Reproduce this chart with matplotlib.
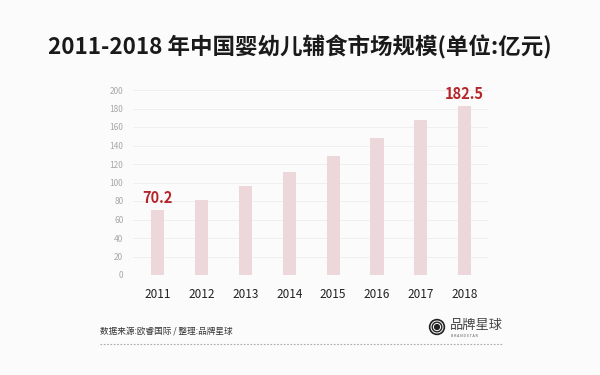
import numpy as np
import matplotlib.pyplot as plt
from matplotlib.patches import Circle

plt.rcParams['font.family'] = ['Noto Sans CJK SC', 'DejaVu Sans']

years = ['2011', '2012', '2013', '2014', '2015', '2016', '2017', '2018']
values = [70.2, 81.5, 96.6, 111.5, 128.5, 148.0, 167.5, 182.5]
labelled = {0: '70.2', 7: '182.5'}

bg = '#fbfbfb'
fig = plt.figure(figsize=(6, 3.75), dpi=100, facecolor=bg)
ax = fig.add_axes([133/600, 1-275/375, (488-133)/600, 185/375], facecolor=bg)

x = np.arange(len(years))
ax.bar(x, values, width=0.3, color='#ecd7da', zorder=2)
for i, t in labelled.items():
    ax.text(x[i], values[i] + 4, t, ha='center', va='bottom', color='#b5262a',
            fontsize=10.5, fontweight='bold')

ax.set_xlim(-0.56, 7.53)
ax.set_ylim(0, 200)
ax.set_yticks(range(0, 201, 20))
ax.set_xticks(x)
ax.set_xticklabels(years)
ax.grid(axis='y', color='#ededed', linewidth=0.6, zorder=0)
for s in ax.spines.values():
    s.set_visible(False)
ax.tick_params(axis='y', length=0, labelsize=6, labelcolor='#a8a8a8', pad=7)
ax.tick_params(axis='x', length=0, labelsize=8.5, labelcolor='#222222', pad=9)

fig.text(0.5, 1-47/375, '2011-2018 年中国婴幼儿辅食市场规模(单位:亿元)', ha='center', va='center',
         fontsize=16.2, fontweight='bold', color='#1a1a1a')
fig.text(100/600, 1-331/375, '数据来源:欧睿国际 / 整理:品牌星球', ha='left', va='center',
         fontsize=6.2, color='#333333')
fig.add_artist(plt.Line2D([100/600, 502/600], [1-344/375, 1-344/375], color='#aaaaaa',
                          linewidth=0.8, linestyle=(0, (1.5, 1.5))))

# logo
cx, cy = 437/600, 1-327/375
for r, c in [(7.5, '#222222'), (5.8, bg), (4.8, '#222222'), (3.4, bg), (2.4, '#222222')]:
    fig.add_artist(Circle((cx * 600, cy * 375), r, transform=None, color=c))
fig.text(450/600, 1-325/375, '品牌星球', ha='left', va='center', fontsize=9.5, color='#444444')
fig.text(451/600, 1-336/375, 'B R A N D S T A R', ha='left', va='center', fontsize=2.6, color='#555555')

fig.savefig('out.png', dpi=100, facecolor=bg)
